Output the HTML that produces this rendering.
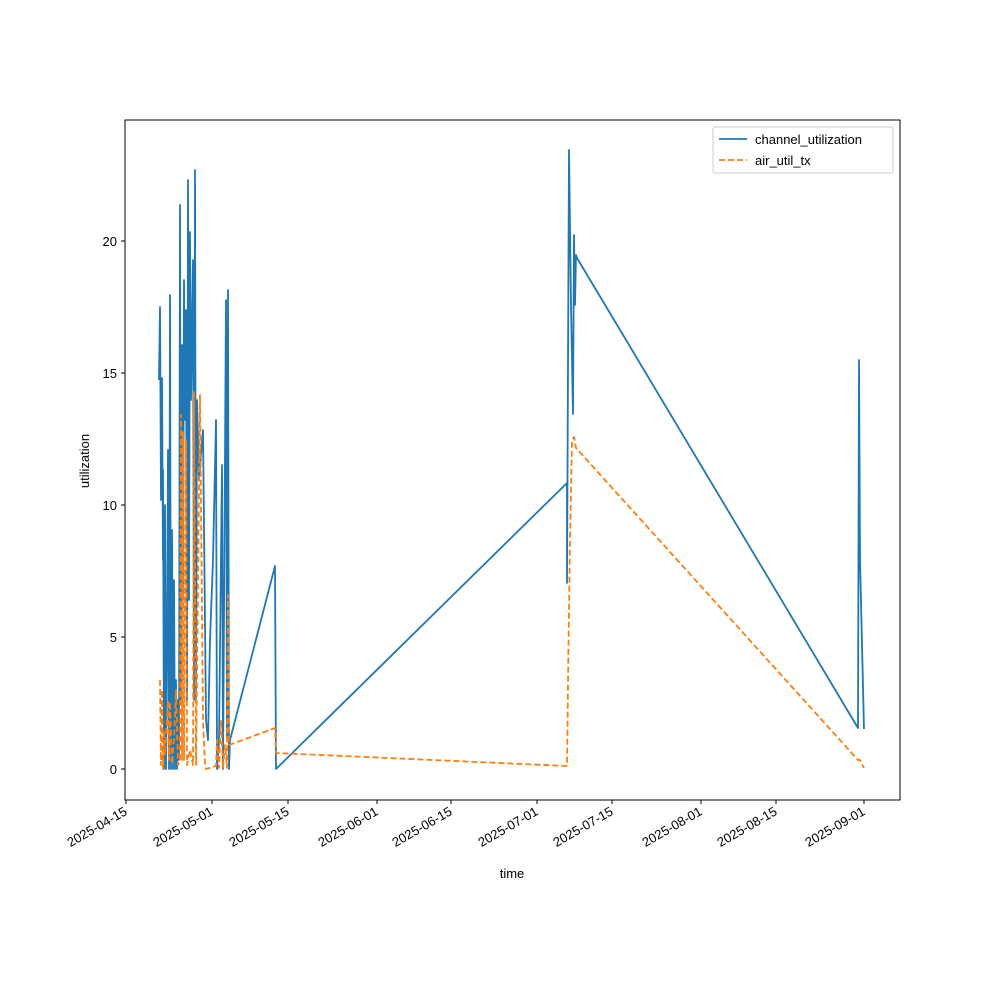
<!DOCTYPE html>
<html><head><style>body{margin:0;background:#fff}svg text{font-family:"Liberation Sans",sans-serif;font-size:13px;fill:#000}</style></head><body>
<svg width="1000" height="1000" viewBox="0 0 1000 1000" xmlns="http://www.w3.org/2000/svg">
<rect width="1000" height="1000" fill="#fff"/>
<defs><clipPath id="c"><rect x="125" y="120" width="775" height="680"/></clipPath></defs>
<g clip-path="url(#c)" fill="none" stroke-width="1.8" stroke-linejoin="round">
<polyline stroke="#1f77b4" points="159,380 160,307 161,500 162,378 163,560 163,470 164,769 165,505 166,769 167,650 168,450 169,769 170,295 171,769 172,530 173,769 174,580 175,769 176,680 177,769 178,700 179,760 180,205 181,700 182,345 183,600 184,280 185,420 186,310 187,700 188,180 189,600 190,232 191,400 193,260 194,700 195,170 196,700 197,400 199,480 203,430 206,720 208,740 210,640 213,560 216,420 217,769 219,740 222,465 223,769 226,300 227,740 228,290 229,769 230,740 275,566 276,769 567,483 567,583 569,150 571,305 573,414 574,235 575,305 576,255 577,258 858,728 859,360 860,560 864,729"/>
<polyline stroke="#ff7f0e" stroke-dasharray="6,3" points="160,680 161,765 162,690 163,769 164,730 165,755 168,700 169,760 170,702 172,764 174,740 176,690 178,765 180,760 181,415 182,760 183,432 184,760 186,440 187,765 190,750 193,765 194,392 196,765 200,395 203,720 205,765 206,769 216,766 217,740 219,768 221,720 223,768 225,745 227,768 228,595 229,745 275,728 276,753 567,766 568,683 570,540 572,440 574,437 576,448 858,760 860,760 864,768"/>
</g>
<rect x="125" y="120" width="775" height="680" fill="none" stroke="#000" stroke-width="1"/>
<g stroke="#000">
<line x1="121" x2="125" y1="769" y2="769"/><line x1="121" x2="125" y1="637" y2="637"/><line x1="121" x2="125" y1="505" y2="505"/><line x1="121" x2="125" y1="373" y2="373"/><line x1="121" x2="125" y1="241" y2="241"/>
<line y1="800" y2="804" x1="126" x2="126"/><line y1="800" y2="804" x1="212" x2="212"/><line y1="800" y2="804" x1="288" x2="288"/><line y1="800" y2="804" x1="377" x2="377"/><line y1="800" y2="804" x1="451" x2="451"/><line y1="800" y2="804" x1="537" x2="537"/><line y1="800" y2="804" x1="612" x2="612"/><line y1="800" y2="804" x1="701" x2="701"/><line y1="800" y2="804" x1="776" x2="776"/><line y1="800" y2="804" x1="864" x2="864"/>
</g>
<g text-anchor="end">
<text x="117" y="774">0</text><text x="117" y="642">5</text><text x="117" y="510">10</text><text x="117" y="378">15</text><text x="117" y="246">20</text>
<text transform="translate(128,814) rotate(-30)">2025-04-15</text>
<text transform="translate(214,814) rotate(-30)">2025-05-01</text>
<text transform="translate(290,814) rotate(-30)">2025-05-15</text>
<text transform="translate(379,814) rotate(-30)">2025-06-01</text>
<text transform="translate(453,814) rotate(-30)">2025-06-15</text>
<text transform="translate(539,814) rotate(-30)">2025-07-01</text>
<text transform="translate(614,814) rotate(-30)">2025-07-15</text>
<text transform="translate(703,814) rotate(-30)">2025-08-01</text>
<text transform="translate(778,814) rotate(-30)">2025-08-15</text>
<text transform="translate(866,814) rotate(-30)">2025-09-01</text>
</g>
<text x="512" y="878" text-anchor="middle">time</text>
<text transform="translate(89,461) rotate(-90)" text-anchor="middle">utilization</text>
<rect x="713" y="127" width="180" height="46" fill="#fff" stroke="#ccc" rx="2"/>
<line x1="719" x2="747" y1="139" y2="139" stroke="#1f77b4" stroke-width="1.8"/>
<line x1="719" x2="747" y1="160" y2="160" stroke="#ff7f0e" stroke-width="1.8" stroke-dasharray="6,3"/>
<text x="755" y="144">channel_utilization</text>
<text x="755" y="165">air_util_tx</text>
</svg>
</body></html>
